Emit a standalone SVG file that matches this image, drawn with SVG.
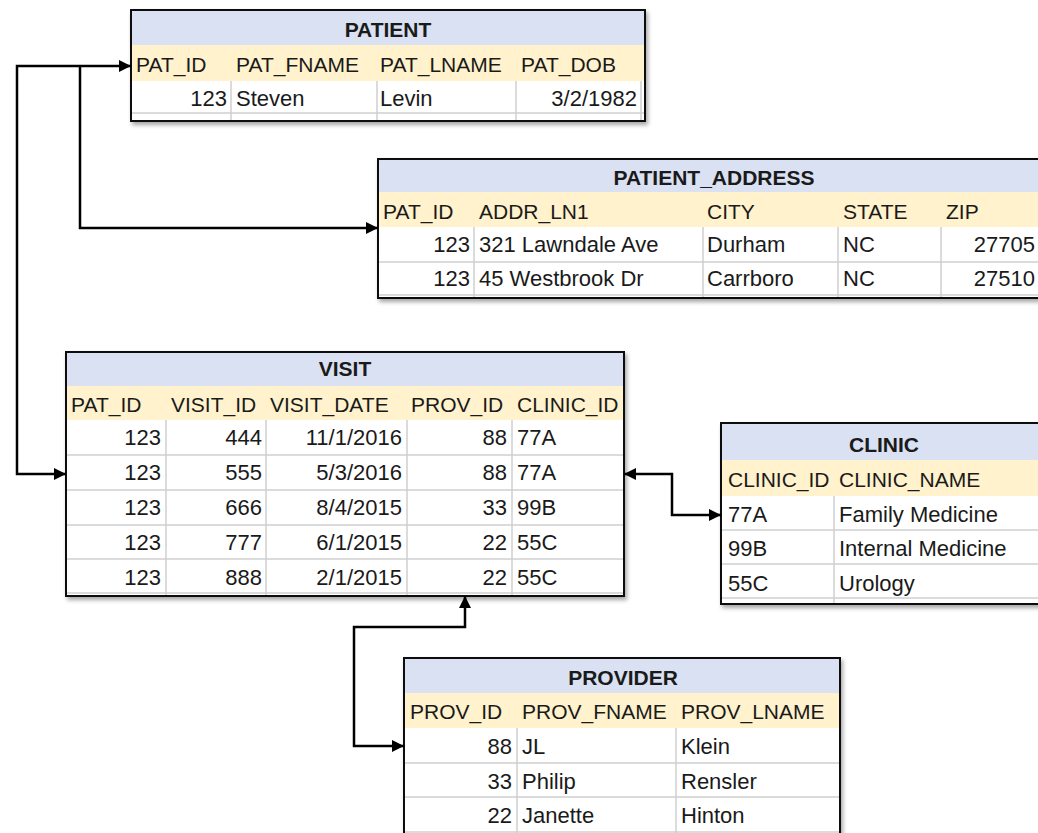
<svg xmlns="http://www.w3.org/2000/svg" width="1038" height="833" viewBox="0 0 1038 833">
<style>
.box{fill:#fff;stroke:#111;stroke-width:2;filter:url(#sh)}
.ttl{fill:#D9E1F2}
.hdr{fill:#FFF2CC}
.grid{stroke:#D0D0D0;stroke-width:1.5;fill:none}
.t{font-family:"Liberation Sans",Arial,sans-serif;font-size:21px;font-weight:bold;fill:#1a1a1a;text-anchor:middle}
.h{font-family:"Liberation Sans",Arial,sans-serif;font-size:21px;fill:#1a1a1a}
.d{font-family:"Liberation Sans",Arial,sans-serif;font-size:22px;fill:#1a1a1a}
.r{text-anchor:end}
.conn{fill:none;stroke:#000;stroke-width:2.5}
</style>
<defs>
<filter id="sh" x="-5%" y="-5%" width="115%" height="120%">
<feDropShadow dx="2" dy="3" stdDeviation="2" flood-color="#000" flood-opacity="0.35"/>
</filter>
<marker id="ar" markerUnits="userSpaceOnUse" markerWidth="13" markerHeight="13" refX="12" refY="6" orient="auto-start-reverse">
<path d="M0,0 L12,6 L0,12 z" fill="#000"/>
</marker>
</defs>
<rect width="1038" height="833" fill="#fff"/>

<g id="patient">
<rect class="box" x="131" y="10" width="514" height="111"/>
<rect class="ttl" x="132" y="11" width="512" height="34"/>
<rect class="hdr" x="132" y="45" width="512" height="36"/>
<path class="grid" d="M231,81 V120 M377,81 V120 M516,81 V120 M641,81 V120 M132,113 H644"/>
<text class="t" x="388" y="37">PATIENT</text>
<text class="h" x="136" y="72">PAT_ID</text>
<text class="h" x="236" y="72">PAT_FNAME</text>
<text class="h" x="380" y="72">PAT_LNAME</text>
<text class="h" x="521" y="72">PAT_DOB</text>
<text class="d r" x="227" y="106">123</text>
<text class="d" x="236" y="106">Steven</text>
<text class="d" x="380" y="106">Levin</text>
<text class="d r" x="637" y="106">3/2/1982</text>
</g>

<g id="patient_address">
<rect class="box" x="378" y="159" width="680" height="139"/>
<rect class="ttl" x="379" y="160" width="678" height="32"/>
<rect class="hdr" x="379" y="192" width="678" height="35"/>
<path class="grid" d="M474,227 V297 M703,227 V297 M838,227 V297 M941,227 V297 M379,262 H1057 M379,295 H1057"/>
<text class="t" x="714" y="185">PATIENT_ADDRESS</text>
<text class="h" x="383" y="219">PAT_ID</text>
<text class="h" x="479" y="219">ADDR_LN1</text>
<text class="h" x="707" y="219">CITY</text>
<text class="h" x="843" y="219">STATE</text>
<text class="h" x="946" y="219">ZIP</text>
<text class="d r" x="470" y="252">123</text>
<text class="d" x="479" y="252">321 Lawndale Ave</text>
<text class="d" x="707" y="252">Durham</text>
<text class="d" x="843" y="252">NC</text>
<text class="d r" x="1035" y="252">27705</text>
<text class="d r" x="470" y="286">123</text>
<text class="d" x="479" y="286">45 Westbrook Dr</text>
<text class="d" x="707" y="286">Carrboro</text>
<text class="d" x="843" y="286">NC</text>
<text class="d r" x="1035" y="286">27510</text>
</g>

<g id="visit">
<rect class="box" x="66" y="352" width="558" height="244"/>
<rect class="ttl" x="67" y="353" width="556" height="33"/>
<rect class="hdr" x="67" y="386" width="556" height="34"/>
<path class="grid" d="M166,420 V595 M266,420 V595 M407,420 V595 M512,420 V595 M67,455 H623 M67,490 H623 M67,525 H623 M67,559 H623 M67,593 H623"/>
<text class="t" x="345" y="376">VISIT</text>
<text class="h" x="71" y="412">PAT_ID</text>
<text class="h" x="171" y="412">VISIT_ID</text>
<text class="h" x="270" y="412">VISIT_DATE</text>
<text class="h" x="411" y="412">PROV_ID</text>
<text class="h" x="517" y="412">CLINIC_ID</text>
<text class="d r" x="161" y="445">123</text><text class="d r" x="262" y="445">444</text><text class="d r" x="402" y="445">11/1/2016</text><text class="d r" x="507" y="445">88</text><text class="d" x="517" y="445">77A</text>
<text class="d r" x="161" y="480">123</text><text class="d r" x="262" y="480">555</text><text class="d r" x="402" y="480">5/3/2016</text><text class="d r" x="507" y="480">88</text><text class="d" x="517" y="480">77A</text>
<text class="d r" x="161" y="515">123</text><text class="d r" x="262" y="515">666</text><text class="d r" x="402" y="515">8/4/2015</text><text class="d r" x="507" y="515">33</text><text class="d" x="517" y="515">99B</text>
<text class="d r" x="161" y="550">123</text><text class="d r" x="262" y="550">777</text><text class="d r" x="402" y="550">6/1/2015</text><text class="d r" x="507" y="550">22</text><text class="d" x="517" y="550">55C</text>
<text class="d r" x="161" y="585">123</text><text class="d r" x="262" y="585">888</text><text class="d r" x="402" y="585">2/1/2015</text><text class="d r" x="507" y="585">22</text><text class="d" x="517" y="585">55C</text>
</g>

<g id="clinic">
<rect class="box" x="721" y="423" width="337" height="181"/>
<rect class="ttl" x="722" y="424" width="335" height="36"/>
<rect class="hdr" x="722" y="460" width="335" height="36"/>
<path class="grid" d="M834,496 V603 M722,530 H1057 M722,564 H1057 M722,598 H1057"/>
<text class="t" x="884" y="452">CLINIC</text>
<text class="h" x="728" y="487">CLINIC_ID</text>
<text class="h" x="839" y="487">CLINIC_NAME</text>
<text class="d" x="728" y="522">77A</text><text class="d" x="839" y="522">Family Medicine</text>
<text class="d" x="728" y="556">99B</text><text class="d" x="839" y="556">Internal Medicine</text>
<text class="d" x="728" y="591">55C</text><text class="d" x="839" y="591">Urology</text>
</g>

<g id="provider">
<rect class="box" x="404" y="658" width="436" height="185"/>
<rect class="ttl" x="405" y="659" width="434" height="34"/>
<rect class="hdr" x="405" y="693" width="434" height="35"/>
<path class="grid" d="M517,728 V833 M676,728 V833 M405,763 H839 M405,797 H839 M405,832 H839"/>
<text class="t" x="623" y="685">PROVIDER</text>
<text class="h" x="410" y="719">PROV_ID</text>
<text class="h" x="522" y="719">PROV_FNAME</text>
<text class="h" x="681" y="719">PROV_LNAME</text>
<text class="d r" x="512" y="754">88</text><text class="d" x="522" y="754">JL</text><text class="d" x="681" y="754">Klein</text>
<text class="d r" x="512" y="789">33</text><text class="d" x="522" y="789">Philip</text><text class="d" x="681" y="789">Rensler</text>
<text class="d r" x="512" y="823">22</text><text class="d" x="522" y="823">Janette</text><text class="d" x="681" y="823">Hinton</text>
</g>

<g id="connectors">
<path class="conn" d="M131,66 H17 V474 H66" marker-start="url(#ar)" marker-end="url(#ar)"/>
<path class="conn" d="M80,66 V228 H378" marker-end="url(#ar)"/>
<path class="conn" d="M624,474 H672 V515 H721" marker-start="url(#ar)" marker-end="url(#ar)"/>
<path class="conn" d="M465,596 V627 H354 V746 H404" marker-start="url(#ar)" marker-end="url(#ar)"/>
</g>
</svg>
